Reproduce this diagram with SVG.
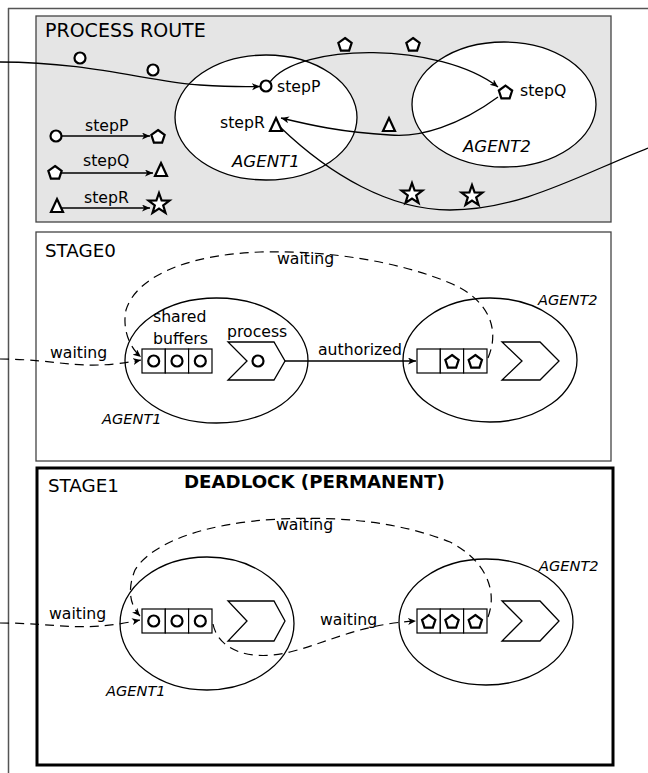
<svg xmlns="http://www.w3.org/2000/svg" xmlns:xlink="http://www.w3.org/1999/xlink" width="648" height="773" viewBox="0 0 648 773">
<style>
  text { font-family: "DejaVu Sans", "Liberation Sans", sans-serif; fill: #000; }
  .title { font-size: 19px; }
  .stitle { font-size: 18.3px; }
  .bold { font-size: 18.2px; font-weight: bold; }
  .lbl { font-size: 15.7px; }
  .agentR { font-size: 16.6px; font-style: italic; }
  .agentS { font-size: 14.6px; font-style: italic; }
  .panel { fill: #fff; stroke: #444; stroke-width: 1.3; }
  .ell { fill: #fff; stroke: #000; stroke-width: 1.3; }
  .conn { fill: none; stroke: #000; stroke-width: 1.3; }
  .dash { fill: none; stroke: #000; stroke-width: 1.2; stroke-dasharray: 9 6; }
  .sym { fill: #fff; stroke: #000; stroke-width: 2.2; stroke-linejoin: miter; }
  .cell { fill: #fff; stroke: #000; stroke-width: 1.2; }
  .chev { fill: #fff; stroke: #000; stroke-width: 1.3; }
</style>
<defs>
  <marker id="arr" markerUnits="userSpaceOnUse" markerWidth="9" markerHeight="8" refX="8" refY="3.5" orient="auto">
    <path d="M0,0 L8,3.5 L0,7 L2.2,3.5 z" fill="#000"/>
  </marker>
  <circle id="cir" r="5.5" class="sym"/>
  <polygon id="pent" class="sym" points="0,-7 6.66,-2.16 4.11,5.66 -4.11,5.66 -6.66,-2.16"/>
  <polygon id="tri" class="sym" points="0,-7 6,6 -6,6"/>
  <polygon id="star" class="sym" points="0,-11 2.6,-3.6 10.5,-3.4 4.2,1.4 6.5,8.9 0,4.5 -6.5,8.9 -4.2,1.4 -10.5,-3.4 -2.6,-3.6"/>
</defs>

<g id="frame">
  <line x1="8" y1="8.5" x2="648" y2="8.5" stroke="#555" stroke-width="1.5"/>
  <line x1="8.5" y1="8" x2="8.5" y2="773" stroke="#555" stroke-width="1.5"/>
</g>

<!-- PROCESS ROUTE panel -->
<g id="process-route">
  <rect x="36" y="16" width="575" height="206" class="panel" style="fill:#e5e5e5"/>
  <text class="title" x="45" y="37">PROCESS ROUTE</text>
</g>
<g id="route-agent1">
  <ellipse cx="266" cy="117.5" rx="91" ry="62.5" class="ell"/>
  <text class="agentR" x="232" y="167">AGENT1</text>
</g>
<g id="route-agent2">
  <ellipse cx="504" cy="104.5" rx="92" ry="62.5" class="ell"/>
  <text class="agentR" x="463" y="152">AGENT2</text>
</g>

<!-- STAGE0 panel -->
<g id="stage0">
  <rect x="36" y="232" width="575" height="229" class="panel"/>
  <text class="stitle" x="45" y="257">STAGE0</text>
</g>
<g id="stage0-agent1">
  <ellipse cx="216.5" cy="360.5" rx="91.5" ry="62.5" class="ell"/>
  <text class="agentS" x="102" y="424">AGENT1</text>
</g>
<g id="stage0-agent2">
  <ellipse cx="490" cy="360" rx="87" ry="62" class="ell"/>
  <text class="agentS" x="538" y="305">AGENT2</text>
</g>

<!-- STAGE1 panel -->
<g id="stage1">
  <rect x="37" y="468" width="576" height="297" fill="#fff" stroke="#000" stroke-width="3"/>
  <text class="stitle" x="48" y="492">STAGE1</text>
  <text class="bold" x="184" y="488">DEADLOCK (PERMANENT)</text>
</g>
<g id="stage1-agent1">
  <ellipse cx="207" cy="623.5" rx="87" ry="66.5" class="ell"/>
  <text class="agentS" x="106" y="696">AGENT1</text>
</g>
<g id="stage1-agent2">
  <ellipse cx="486" cy="622" rx="87" ry="63" class="ell"/>
  <text class="agentS" x="539" y="571">AGENT2</text>
</g>

<!-- connectors -->
<g id="connectors">
  <!-- process route -->
  <path class="conn" d="M0,62 C90,62 150,82 200,85 C230,87 245,87 260,86.5" marker-end="url(#arr)"/>
  <path class="conn" d="M270,82 C300,42 440,42 498,87" marker-end="url(#arr)"/>
  <path class="conn" d="M498,97 C460,125 420,138 390,135 C340,132 310,125 281,118" marker-end="url(#arr)"/>
  <path class="conn" d="M280,127 C330,175 390,210 450,210 C520,210 580,175 648,148"/>
  <!-- legend -->
  <line class="conn" x1="61" y1="136" x2="150" y2="136" marker-end="url(#arr)"/>
  <line class="conn" x1="61" y1="173" x2="153" y2="173" marker-end="url(#arr)"/>
  <line class="conn" x1="62" y1="208" x2="150" y2="208" marker-end="url(#arr)"/>
  <!-- stage0 -->
  <path class="dash" d="M0,359 C60,359 80,372 141,360" marker-end="url(#arr)"/>
  <path class="dash" d="M488,358 C500,330 490,300 450,283 C400,262 330,250 260,252 C180,255 135,280 126,310 C122,330 130,348 141,357" marker-end="url(#arr)"/>
  <line class="conn" x1="263" y1="361" x2="416" y2="361" marker-end="url(#arr)"/>
  <!-- stage1 -->
  <path class="dash" d="M0,623 C60,623 80,633 140,620" marker-end="url(#arr)"/>
  <path class="dash" d="M488,617 C498,590 485,560 450,542 C400,522 340,516 280,519 C200,523 150,545 135,570 C127,590 130,605 140,616" marker-end="url(#arr)"/>
  <path class="dash" d="M213,624 C218,650 250,662 290,652 C330,642 360,624 416,621" marker-end="url(#arr)"/>
</g>

<!-- process route symbols -->
<g id="route-symbols">
  <use xlink:href="#cir" x="80" y="58"/>
  <use xlink:href="#cir" x="153" y="70"/>
  <use xlink:href="#cir" x="266" y="86"/>
  <use xlink:href="#pent" x="345" y="45"/>
  <use xlink:href="#pent" x="413" y="45"/>
  <use xlink:href="#pent" x="505.5" y="92.7"/>
  <use xlink:href="#tri" x="276" y="125"/>
  <use xlink:href="#tri" x="389" y="125"/>
  <use xlink:href="#star" x="412" y="194"/>
  <use xlink:href="#star" x="472" y="196"/>
  <text class="lbl" x="277" y="92">stepP</text>
  <text class="lbl" x="520" y="96">stepQ</text>
  <text class="lbl" x="220" y="128">stepR</text>
</g>
<g id="legend">
  <use xlink:href="#cir" x="56" y="136"/>
  <use xlink:href="#pent" x="158" y="137"/>
  <use xlink:href="#pent" x="55" y="173"/>
  <use xlink:href="#tri" x="161" y="170"/>
  <use xlink:href="#tri" x="57" y="206"/>
  <use xlink:href="#star" x="159" y="204"/>
  <text class="lbl" x="85" y="131">stepP</text>
  <text class="lbl" x="83" y="166">stepQ</text>
  <text class="lbl" x="84" y="203">stepR</text>
</g>

<!-- stage0 nodes -->
<g id="stage0-buffer1">
  <rect x="142" y="349" width="23.3" height="24" class="cell"/>
  <rect x="165.3" y="349" width="23.3" height="24" class="cell"/>
  <rect x="188.6" y="349" width="23.4" height="24" class="cell"/>
  <use xlink:href="#cir" x="153.7" y="361"/>
  <use xlink:href="#cir" x="177" y="361"/>
  <use xlink:href="#cir" x="200.3" y="361"/>
  <text class="lbl" x="153" y="322">shared</text>
  <text class="lbl" x="153" y="344">buffers</text>
</g>
<g id="stage0-process1">
  <polygon class="chev" points="228,342 274,342 285,361 274,380 228,380 247,361"/>
  <use xlink:href="#cir" x="258" y="361"/>
  <text class="lbl" x="227" y="337">process</text>
</g>
<g id="stage0-buffer2">
  <rect x="417" y="349" width="23.3" height="24" class="cell"/>
  <rect x="440.3" y="349" width="23.3" height="24" class="cell"/>
  <rect x="463.6" y="349" width="23.4" height="24" class="cell"/>
  <use xlink:href="#pent" x="452" y="362"/>
  <use xlink:href="#pent" x="475.3" y="362"/>
</g>
<g id="stage0-process2">
  <polygon class="chev" points="502,342 540,342 559,361 540,380 502,380 522,361"/>
</g>
<g id="stage0-labels">
  <text class="lbl" x="50" y="358">waiting</text>
  <text class="lbl" x="277" y="264">waiting</text>
  <text class="lbl" x="318" y="355">authorized</text>
</g>

<!-- stage1 nodes -->
<g id="stage1-buffer1">
  <rect x="142" y="609" width="23.3" height="24" class="cell"/>
  <rect x="165.3" y="609" width="23.3" height="24" class="cell"/>
  <rect x="188.6" y="609" width="23.4" height="24" class="cell"/>
  <use xlink:href="#cir" x="153.7" y="621"/>
  <use xlink:href="#cir" x="177" y="621"/>
  <use xlink:href="#cir" x="200.3" y="621"/>
</g>
<g id="stage1-process1">
  <polygon class="chev" points="228,601 274,601 285,621 274,641 228,641 247,621"/>
</g>
<g id="stage1-buffer2">
  <rect x="417" y="609" width="23.3" height="24" class="cell"/>
  <rect x="440.3" y="609" width="23.3" height="24" class="cell"/>
  <rect x="463.6" y="609" width="23.4" height="24" class="cell"/>
  <use xlink:href="#pent" x="428.7" y="622"/>
  <use xlink:href="#pent" x="452" y="622"/>
  <use xlink:href="#pent" x="475.3" y="622"/>
</g>
<g id="stage1-process2">
  <polygon class="chev" points="502,601 540,601 559,621 540,641 502,641 522,621"/>
</g>
<g id="stage1-labels">
  <text class="lbl" x="49" y="619">waiting</text>
  <text class="lbl" x="276" y="530">waiting</text>
  <text class="lbl" x="320" y="625">waiting</text>
</g>
</svg>
